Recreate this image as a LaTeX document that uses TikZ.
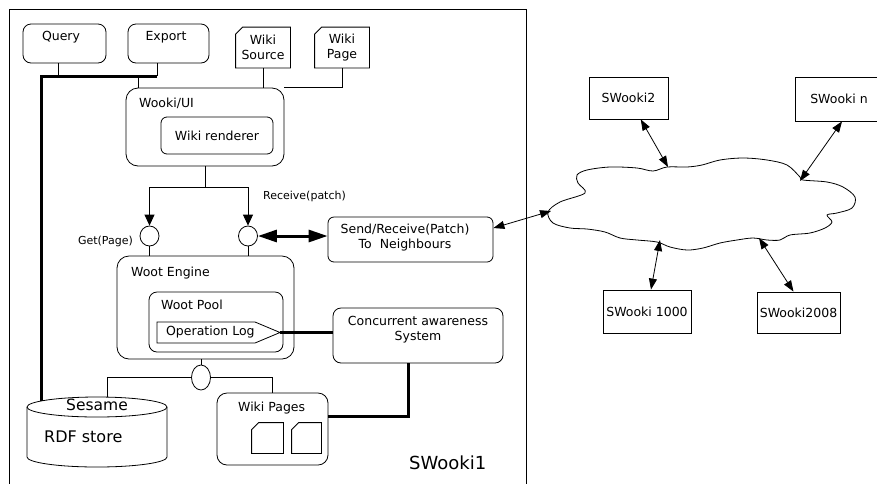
\documentclass[tikz,border=0pt]{standalone}
\usepackage{fontspec}
\setmainfont{DejaVu Sans}
\usetikzlibrary{arrows.meta,calc,shapes.geometric}

\tikzset{
  box/.style={draw, rounded corners=6pt, inner sep=0pt, line width=0.8pt},
  peer/.style={draw, inner sep=0pt, line width=0.8pt},
  port/.style={draw, ellipse, fill=white, inner sep=0pt, minimum width=19pt, minimum height=20pt, line width=0.8pt},
  txt/.style={inner sep=0.75pt},
  smalltext/.style={inner sep=0.75pt, font=\fontsize{11}{13}\selectfont},
  bus/.style={line width=3pt},
  arr/.style={-{Triangle[length=11pt,width=10pt]}},
  dblarr/.style={{Triangle[length=11pt,width=8pt]}-{Triangle[length=11pt,width=8pt]}},
  fatarr/.style={line width=3pt, {Triangle[length=19pt,width=12pt]}-{Triangle[length=19pt,width=12pt]}},
}
% page with a folded corner
\newcommand{\dogear}[2]{\draw[line width=0.8pt] ($(#1.north west)+(0,#2)$) -- ($(#1.north west)+(#2,0)$) -- (#1.north east) -- (#1.south east) -- (#1.south west) -- cycle;}

\begin{document}
\begin{tikzpicture}[x=1pt,y=1pt,yscale=-1,xscale=1,line width=0.8pt,font=\fontsize{12.5}{15}\selectfont]
    \clip (0,0) rectangle (877,483);

    %Shape: Frame of SWooki1
    \draw (9,9) rectangle (526,500);
    % Text Node
    \node[txt, anchor=west, font=\fontsize{18}{20}\selectfont] (sitename) at (408,463) {SWooki1};

    %Shape: Query and Export
    \node[box, rounded corners=8pt, minimum width=83pt, minimum height=39pt] (query) at (64.5,43.5) {};
    \node[txt] (querytxt) at (61,37) {Query};
    \node[box, rounded corners=8pt, minimum width=81pt, minimum height=39pt] (export) at (168.5,43.5) {};
    \node[txt] (exporttxt) at (166,37) {Export};

    %Shape: Wiki Source / Wiki Page
    \node[txt, align=center, minimum width=54pt, minimum height=40pt] (wsrc) at (263,47.5) {Wiki\\Source};
    \dogear{wsrc}{7}
    \node[txt, align=center, minimum width=54pt, minimum height=40pt] (wpage) at (342,47.5) {Wiki\\Page};
    \dogear{wpage}{7}

    %Shape: Wooki/UI
    \node[box, rounded corners=12pt, minimum width=158pt, minimum height=78pt] (wookiui) at (205,127) {};
    \node[txt, anchor=west] (uilabel) at (138,103) {Wooki/UI};
    \node[box, minimum width=112pt, minimum height=37pt] (render) at (217,135.5) {Wiki renderer};

    %Shape: Ports
    \node[port] (getport) at (149.5,236) {};
    \node[port] (recport) at (248,236) {};
    \node[smalltext, anchor=east] (getlabel) at (134,241) {Get(Page)};
    \node[smalltext, anchor=west] (reclabel) at (262,196) {Receive(patch)};

    %Shape: Woot Engine
    \node[box, rounded corners=12pt, minimum width=177pt, minimum height=103pt] (engine) at (205.5,307.5) {};
    \node[txt, anchor=west] (enginelabel) at (130,273) {Woot Engine};
    \node[box, rounded corners=8pt, minimum width=134pt, minimum height=60pt] (pool) at (216,322) {};
    \node[txt, anchor=west] (poollabel) at (160,305) {Woot Pool};
    \node[txt, anchor=west] (oplog) at (165,332.5) {Operation Log};
    \draw (157,322) -- (255,322) -- (280,332.5) -- (255,343) -- (157,343) -- cycle;
    \coordinate (logtip) at (280,332.5);

    %Shape: Send/Receive and awareness
    \node[box, minimum width=165pt, minimum height=45pt] (send) at (410.5,239.5) {};
    \node[txt, align=center] (sendtxt) at (405,238) {Send/Receive(Patch)\\To~~Neighbours};
    \node[box, rounded corners=8pt, minimum width=170pt, minimum height=55pt] (aware) at (418,335.5) {};
    \node[txt, align=center] (awaretxt) at (418,329.5) {Concurrent awareness\\System};

    %Shape: lower port, store and pages
    \node[port, minimum height=25pt] (dbport) at (201,377.5) {};
    \draw (167,407) arc[start angle=0, end angle=360, x radius=70, y radius=10];
    \draw (27,407) -- (27,457) arc[start angle=180, end angle=0, x radius=70, y radius=10] -- (167,407);
    \node[txt, font=\fontsize{15.5}{18}\selectfont] (sesame) at (97,405) {Sesame};
    \node[txt, anchor=west, font=\fontsize{16}{18}\selectfont] (rdf) at (43,437) {RDF store};
    \coordinate (dbtop) at (107,397);
    \coordinate (dbleft) at (41,401);
    \node[box, rounded corners=10pt, minimum width=111pt, minimum height=72pt] (pages) at (272.5,429) {};
    \node[txt, anchor=west] (pageslabel) at (237,408) {Wiki Pages};
    \node[minimum width=31pt, minimum height=30pt] (page1) at (267.5,438) {};
    \dogear{page1}{7}
    \node[minimum width=29pt, minimum height=30pt] (page2) at (306.5,438) {};
    \dogear{page2}{7}

    % Connectors
    \coordinate (qtap) at (58,76);
    \coordinate (exptap) at (157,76);
    \coordinate (uitap) at (138,88);
    \draw (query.south -| qtap) -- (qtap);
    \draw (export.south -| exptap) -- (exptap);
    \draw (uitap) -- (uitap |- exptap);
    \draw[bus] (exptap) -| (dbleft);
    \draw (wsrc.south) -- (wsrc.south |- wookiui.north);
    \draw (wpage.south) |- (wookiui.north east);

    \coordinate (split) at (205,187);
    \draw (wookiui.south -| split) -- (split);
    \draw[arr] (split) -| (getport.north);
    \draw[arr] (split) -| (recport.north);
    \draw (getport.south) -- (getport.south |- engine.north);
    \draw (recport.south) -- (recport.south |- engine.north);
    \draw[fatarr] (recport.east) -- (recport.east -| send.west);

    \draw[bus] (logtip) -- (logtip -| aware.west);
    \draw[bus] ([xshift=-10pt]aware.south) |- ($(pages.east)+(0,-13)$);

    \draw (dbport.north) -- (dbport.north |- engine.south);
    \draw (dbport.west) -| (dbtop);
    \draw (dbport.east) -| (pages.north);

    %Shape: Cloud
    \draw plot[smooth cycle, tension=0.55] coordinates {
      (548,212) (560,202) (585,193) (578,183) (577,175) (587,170) (610,167)
      (637,168) (653,171) (667,167) (687,167) (702,165) (720,160) (743,158)
      (767,160) (787,165) (800,177) (803,180) (827,182) (843,187) (855,197)
      (852,208) (837,213) (827,215) (832,222) (825,228) (810,233) (790,235)
      (780,240) (767,240) (753,238) (737,240) (720,243) (703,248) (687,250)
      (670,247) (657,242) (637,240) (620,238) (605,232) (587,229) (570,228)
      (553,223)};
    \coordinate (cin) at (551,211);
    \coordinate (c2) at (668,167);
    \coordinate (cn) at (800,181);
    \coordinate (c1000) at (660,240);
    \coordinate (c2008) at (759,238);

    %Shape: Peers
    \node[peer, minimum width=79pt, minimum height=42pt] (swooki2) at (628.5,98) {SWooki2};
    \node[peer, minimum width=88pt, minimum height=44pt] (swookin) at (839,99) {SWooki n};
    \node[peer, minimum width=88pt, minimum height=43pt] (swooki1000) at (647,311.5) {SWooki 1000};
    \node[peer, minimum width=83pt, minimum height=41pt] (swooki2008) at (798.5,312.5) {SWooki2008};

    \draw[dblarr] ($(send.north east)!0.25!(send.south east)$) -- (cin);
    \draw[dblarr] (swooki2) -- (c2);
    \draw[dblarr] ([xshift=3pt]swookin.south) -- (cn);
    \draw[dblarr] (swooki1000) -- (c1000);
    \draw[dblarr] ([xshift=-5pt]swooki2008.north) -- (c2008);

\end{tikzpicture}
\end{document}
